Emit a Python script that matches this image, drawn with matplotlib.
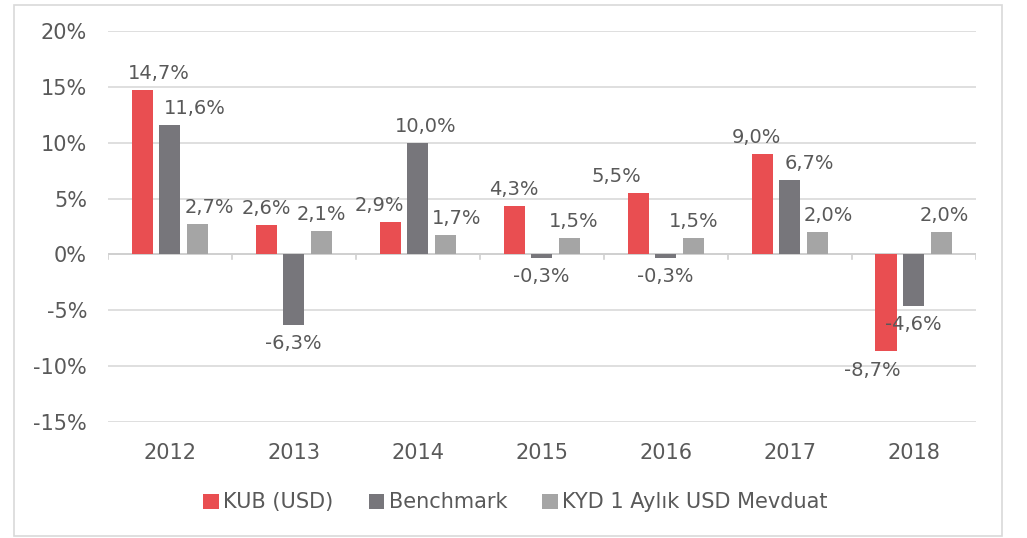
import numpy as np
import matplotlib.pyplot as plt
from matplotlib.patches import Rectangle

years = ['2012', '2013', '2014', '2015', '2016', '2017', '2018']
kub = [14.7, 2.6, 2.9, 4.3, 5.5, 9.0, -8.7]
benchmark = [11.6, -6.3, 10.0, -0.3, -0.3, 6.7, -4.6]
kyd = [2.7, 2.1, 1.7, 1.5, 1.5, 2.0, 2.0]
series_names = ['KUB (USD)', 'Benchmark', 'KYD 1 Aylık USD Mevduat']
colors = ['#E94E51', '#77767B', '#A5A5A5']

# horizontal nudges (points) so labels sit roughly where the original had them
nudges = [
    [12, 0, -8, 0, -16, -4, -10],
    [18, 0, 6, 0, 0, 14, 0],
    [9, 0, 8, 3, 0, 8, 2],
]

text_col = '#595959'
plt.rcParams['font.family'] = ['DejaVu Sans']

fig = plt.figure(figsize=(10.27, 5.38), dpi=100)
ax = fig.add_axes([0.105, 0.216, 0.845, 0.726])

fig.patches.append(Rectangle((14 / 1027, 2 / 538), 988 / 1027, 531 / 538,
                             transform=fig.transFigure, fill=False,
                             edgecolor='#D9D9D9', linewidth=1.2))

x = np.arange(len(years))
w = 0.172
step = 0.222
data = [kub, benchmark, kyd]
for i, (vals, name, c) in enumerate(zip(data, series_names, colors)):
    pos = x + (i - 1) * step
    ax.bar(pos, vals, width=w, color=c, label=name, zorder=3)
    for j, (p, v) in enumerate(zip(pos, vals)):
        lab = f'{v:.1f}%'.replace('.', ',')
        off = 5 if v >= 0 else -7
        ax.annotate(lab, (p, v), xytext=(nudges[i][j], off), textcoords='offset points',
                    ha='center', va='bottom' if v >= 0 else 'top',
                    fontsize=14, color=text_col, zorder=4)

ax.set_xlim(-0.5, len(years) - 0.5)
ax.set_ylim(-15, 20)
ax.set_yticks(range(-15, 21, 5))
ax.set_yticklabels([f'{t}%' for t in range(-15, 21, 5)])
ax.yaxis.grid(True, color='#D9D9D9', linewidth=1.2, zorder=0)
ax.set_axisbelow(True)
for s in ax.spines.values():
    s.set_visible(False)
ax.tick_params(axis='y', length=0, labelsize=15, labelcolor=text_col, pad=15)

ax.axhline(0, color='#D0D0D0', linewidth=1.4, zorder=2)
for b in np.arange(-0.5, len(years), 1.0):
    ax.plot([b, b], [0, -0.45], color='#D0D0D0', linewidth=1.2, zorder=2)

ax.set_xticks(x)
ax.set_xticklabels(years)
ax.tick_params(axis='x', length=0, labelsize=15, labelcolor=text_col, pad=15)

leg = fig.legend(loc='center', bbox_to_anchor=(0.502, 0.066), ncol=3, frameon=False,
                 fontsize=15, handlelength=0.75, handleheight=0.75, handletextpad=0.2,
                 columnspacing=1.7)
for t in leg.get_texts():
    t.set_color(text_col)

fig.savefig('out.png', dpi=100)
